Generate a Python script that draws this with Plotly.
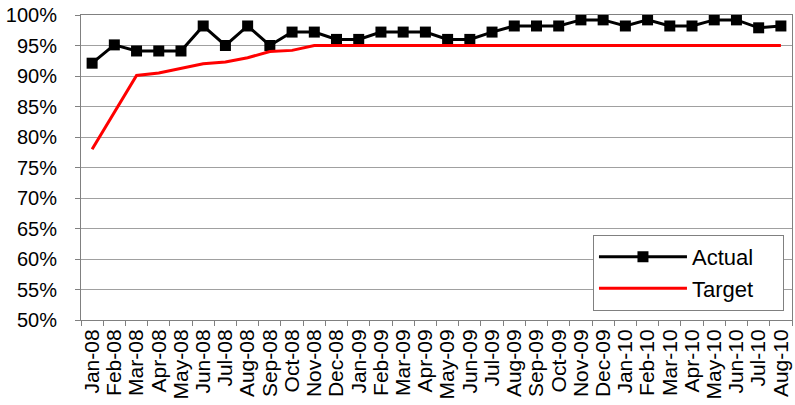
import plotly.graph_objects as go

months = ["Jan-08","Feb-08","Mar-08","Apr-08","May-08","Jun-08","Jul-08","Aug-08","Sep-08","Oct-08","Nov-08","Dec-08",
          "Jan-09","Feb-09","Mar-09","Apr-09","May-09","Jun-09","Jul-09","Aug-09","Sep-09","Oct-09","Nov-09","Dec-09",
          "Jan-10","Feb-10","Mar-10","Apr-10","May-10","Jun-10","Jul-10","Aug-10"]
actual = [0.921, 0.951, 0.941, 0.941, 0.941, 0.982, 0.950, 0.982, 0.950, 0.972, 0.972, 0.960,
          0.960, 0.972, 0.972, 0.972, 0.960, 0.960, 0.972, 0.982, 0.982, 0.982, 0.992, 0.992,
          0.982, 0.992, 0.982, 0.982, 0.992, 0.992, 0.979, 0.982]
target = [0.780, 0.841, 0.901, 0.905, 0.913, 0.920, 0.923, 0.930, 0.940, 0.942, 0.950, 0.950,
          0.950, 0.950, 0.950, 0.950, 0.950, 0.950, 0.950, 0.950, 0.950, 0.950, 0.950, 0.950,
          0.950, 0.950, 0.950, 0.950, 0.950, 0.950, 0.950, 0.950]
y_ticks = [0.50, 0.55, 0.60, 0.65, 0.70, 0.75, 0.80, 0.85, 0.90, 0.95, 1.00]

pad = "\u00a0" * 4  # right padding inside the legend box

fig = go.Figure()
fig.add_trace(go.Scatter(x=months, y=actual, name="Actual" + pad, mode="lines+markers",
                         line=dict(color="black", width=3),
                         marker=dict(symbol="square", size=11, color="black")))
fig.add_trace(go.Scatter(x=months, y=target, name="Target" + pad, mode="lines",
                         line=dict(color="#ff0000", width=3)))

fig.update_layout(
    width=795, height=405,
    margin=dict(l=81, r=3, t=15, b=85),
    paper_bgcolor="white", plot_bgcolor="white",
    font=dict(family="Liberation Sans, Arial, sans-serif", color="black", size=20),
    showlegend=True,
    legend=dict(x=0.9887, y=0.030, xanchor="right", yanchor="bottom",
                bgcolor="white", bordercolor="#808080", borderwidth=1,
                font=dict(size=22), itemwidth=88, tracegroupgap=2),
)
fig.update_xaxes(type="category", tickangle=-90, tickson="boundaries",
                 tickmode="linear", dtick=1, tick0=0,
                 ticks="outside", ticklen=5, tickcolor="#808080",
                 showline=True, linecolor="#808080", linewidth=1, mirror=True,
                 showgrid=False, tickfont=dict(size=21), range=[-0.5, 31.5])
fig.update_yaxes(range=[0.5, 1.0], tickvals=y_ticks, tickformat=".0%",
                 ticks="outside", ticklen=5, tickcolor="#808080",
                 showline=True, linecolor="#808080", linewidth=1, mirror=True,
                 showgrid=True, gridcolor="#a0a0a0", gridwidth=1,
                 tickfont=dict(size=20), ticklabelstandoff=14,
                 ticklabeloverflow="allow")

# remove the default 8px page margin so the 795x405 figure fills the window
fig.write_html("out.html", config={"displayModeBar": False},
               post_script="document.body.style.margin='0';")
